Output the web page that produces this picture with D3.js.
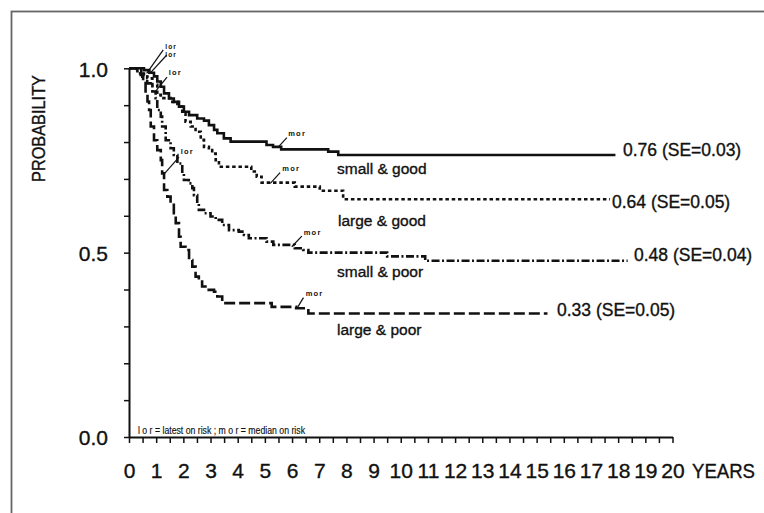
<!DOCTYPE html>
<html>
<head>
<meta charset="utf-8">
<script src="https://cdn.jsdelivr.net/npm/d3@7"></script>
<style>
  html, body { margin: 0; padding: 0; background: #fff; }
  svg { display: block; }
  text { font-family: "Liberation Sans", Arial, Helvetica, sans-serif; fill: #111; }
  .heavy { stroke: #111; stroke-width: 0.35px; }
</style>
</head>
<body>
<svg id="chart" width="764" height="513"></svg>
<script>
// ---------------- DATA ----------------
const seriesNames = ["small & good", "large & good", "small & poor", "large & poor"];

const smallGoodT = [0, 0.55, 0.75, 0.92, 1.04, 1.17, 1.29, 1.47, 1.65, 1.84, 2.02, 2.21, 2.51, 2.76, 2.94, 3.13, 3.25, 3.49, 3.74, 5.06, 5.3, 5.6, 7.33, 7.7, 17.9];
const smallGoodP = [1.0, 0.995, 0.988, 0.978, 0.964, 0.950, 0.932, 0.918, 0.909, 0.896, 0.882, 0.873, 0.864, 0.858, 0.846, 0.833, 0.824, 0.810, 0.801, 0.792, 0.787, 0.780, 0.774, 0.765, 0.765];

const largeGoodT = [0, 0.45, 0.55, 0.67, 0.86, 1.04, 1.17, 1.53, 1.78, 1.96, 2.08, 2.27, 2.45, 2.64, 2.76, 2.94, 3.06, 3.19, 3.31, 4.5, 4.7, 4.88, 6.1, 7.02, 7.88, 17.7];
const largeGoodP = [1.0, 0.990, 0.982, 0.973, 0.955, 0.928, 0.919, 0.909, 0.896, 0.878, 0.855, 0.842, 0.828, 0.806, 0.787, 0.778, 0.769, 0.751, 0.733, 0.720, 0.706, 0.690, 0.679, 0.668, 0.645, 0.645];

const smallPoorT = [0, 0.31, 0.49, 0.67, 0.86, 0.98, 1.04, 1.17, 1.22, 1.35, 1.53, 1.65, 1.78, 1.96, 2.02, 2.2, 2.33, 2.39, 2.51, 2.57, 2.76, 3.0, 3.19, 3.43, 3.68, 4.04, 4.23, 4.41, 5.06, 5.31, 6.1, 6.41, 6.6, 9.5, 10.9, 18.35];
const smallPoorP = [1.0, 0.986, 0.977, 0.959, 0.937, 0.919, 0.887, 0.869, 0.842, 0.805, 0.783, 0.765, 0.742, 0.715, 0.697, 0.688, 0.675, 0.656, 0.634, 0.616, 0.607, 0.598, 0.589, 0.575, 0.561, 0.557, 0.548, 0.539, 0.530, 0.521, 0.512, 0.507, 0.500, 0.490, 0.478, 0.478];

const largePoorT = [0, 0.3, 0.43, 0.52, 0.61, 0.68, 0.74, 0.8, 0.92, 1.04, 1.17, 1.22, 1.29, 1.41, 1.53, 1.65, 1.72, 1.84, 1.9, 2.08, 2.21, 2.33, 2.45, 2.57, 2.69, 2.88, 3.13, 3.25, 3.43, 5.25, 6.15, 6.6, 15.4];
const largePoorP = [1.0, 0.990, 0.982, 0.960, 0.932, 0.910, 0.887, 0.842, 0.805, 0.778, 0.751, 0.715, 0.670, 0.652, 0.634, 0.607, 0.580, 0.543, 0.516, 0.507, 0.480, 0.462, 0.435, 0.426, 0.408, 0.399, 0.394, 0.381, 0.363, 0.353, 0.349, 0.335, 0.335];

const endLabels = ["0.76 (SE=0.03)", "0.64 (SE=0.05)", "0.48 (SE=0.04)", "0.33 (SE=0.05)"];

const yTickValues = [0, 0.1, 0.2, 0.3, 0.4, 0.5, 0.6, 0.7, 0.8, 0.9, 1.0];
const yTickLabels = ["0.0", "", "", "", "", "0.5", "", "", "", "", "1.0"];
const xTickValues = d3.range(0, 20.01, 0.5);
const xTickLabels = d3.range(0, 21).map(String);

// annotations: label text, label position (t,p), leader from (t,p) to (t,p)
const annText   = ["lor", "lor", "lor", "lor", "mor", "mor", "mor", "mor"];
const annLabelT = [1.33, 1.33, 1.46, 1.90, 5.86, 5.64, 6.43, 6.50];
const annLabelP = [1.053, 1.032, 0.983, 0.768, 0.816, 0.721, 0.549, 0.382];
const annFromT  = [1.26, 1.39, 1.40, 1.84, 5.81, 5.56, 6.36, 6.42];
const annFromP  = [1.050, 1.036, 0.976, 0.759, 0.812, 0.717, 0.545, 0.378];
const annToT    = [0.65, 0.77, 0.96, 1.29, 5.50, 5.20, 5.99, 6.18];
const annToP    = [0.986, 0.986, 0.936, 0.713, 0.787, 0.688, 0.516, 0.349];

const footnote = "l o r = latest on risk  ;  m o r = median on risk";

// ---------------- DRAW ----------------
const svg = d3.select("#chart");

// frame
svg.append("rect").attr("x", 11.5).attr("y", 11.5).attr("width", 900).attr("height", 700)
  .attr("fill", "none").attr("stroke", "#666").attr("stroke-width", 1.8);

const x = d3.scaleLinear().domain([0, 20]).range([129, 672.5]);
const y = d3.scaleLinear().domain([0, 1]).range([437, 68.3]);

// y axis
const yAxis = svg.append("g").attr("transform", `translate(${x(0)},0)`)
  .call(d3.axisLeft(y).tickValues(yTickValues).tickSize(5).tickSizeOuter(0).tickPadding(16)
    .tickFormat((d, i) => yTickLabels[i]));
yAxis.select(".domain").attr("stroke", "#111").attr("stroke-width", 2);
yAxis.selectAll(".tick line").attr("stroke", "#111").attr("stroke-width", 1.5);
yAxis.selectAll(".tick text").attr("font-size", 21).attr("dy", "0.38em").attr("class", "heavy")
  .style("font-family", '"Liberation Sans", Arial, sans-serif').attr("fill", "#111");

// x axis
const xAxis = svg.append("g").attr("transform", `translate(0,${y(0)})`)
  .call(d3.axisBottom(x).tickValues(xTickValues).tickSize(6).tickSizeOuter(0).tickPadding(20)
    .tickFormat(d => Number.isInteger(d) ? xTickLabels[d] : ""));
xAxis.select(".domain").attr("stroke", "#111").attr("stroke-width", 2);
xAxis.selectAll(".tick line").attr("stroke", "#111").attr("stroke-width", 1.5);
xAxis.selectAll(".tick text").attr("font-size", 21).attr("class", "heavy")
  .style("font-family", '"Liberation Sans", Arial, sans-serif').attr("fill", "#111");

// axis titles
svg.append("text").attr("x", 692).attr("y", 478).attr("font-size", 21).attr("class", "heavy")
  .attr("textLength", 63).attr("lengthAdjust", "spacingAndGlyphs").text("YEARS");
svg.append("text").attr("transform", "translate(45,128.5) rotate(-90)")
  .attr("text-anchor", "middle").attr("font-size", 18).attr("class", "heavy")
  .attr("textLength", 107).attr("lengthAdjust", "spacingAndGlyphs").text("PROBABILITY");

// curves
const series = [
  { t: smallGoodT, p: smallGoodP, dash: null },
  { t: largeGoodT, p: largeGoodP, dash: "3.5,2.8" },
  { t: smallPoorT, p: smallPoorP, dash: "8,2.5,2,2.5" },
  { t: largePoorT, p: largePoorP, dash: "11,4" }
];
const line = d3.line().x(d => x(d[0])).y(d => y(d[1])).curve(d3.curveStepAfter);
series.forEach(s => {
  const pts = s.t.map((t, i) => [t, s.p[i]]);
  const path = svg.append("path").datum(pts).attr("d", line)
    .attr("fill", "none").attr("stroke", "#111").attr("stroke-width", 2.6)
    .attr("stroke-linejoin", "miter");
  if (s.dash) path.attr("stroke-dasharray", s.dash);
});

// end labels
const endLabelX = [623, 612, 634, 557];
const endLabelY = [156, 208, 261, 316];
endLabels.forEach((txt, i) => {
  svg.append("text").attr("x", endLabelX[i]).attr("y", endLabelY[i]).attr("class", "heavy")
    .attr("font-size", 17.5).text(txt);
});

// group name labels
const nameX = [337, 338, 337, 337];
const nameY = [174, 226, 277, 335];
seriesNames.forEach((txt, i) => {
  svg.append("text").attr("x", nameX[i]).attr("y", nameY[i]).attr("class", "heavy")
    .attr("font-size", 15.5).text(txt);
});

// annotations
annText.forEach((txt, i) => {
  svg.append("line")
    .attr("x1", x(annFromT[i])).attr("y1", y(annFromP[i]))
    .attr("x2", x(annToT[i])).attr("y2", y(annToP[i]))
    .attr("stroke", "#111").attr("stroke-width", 1.2);
  svg.append("text").attr("x", x(annLabelT[i])).attr("y", y(annLabelP[i]))
    .attr("font-size", i < 2 ? 6.5 : 7.5).attr("letter-spacing", 1.2).attr("font-weight", "bold").text(txt);
});

// footnote
svg.append("text").attr("x", 138).attr("y", 433.5).attr("font-size", 10).attr("class", "heavy")
  .style("stroke-width", "0.15px")
  .attr("textLength", 167).attr("lengthAdjust", "spacingAndGlyphs").text(footnote);
</script>
</body>
</html>
